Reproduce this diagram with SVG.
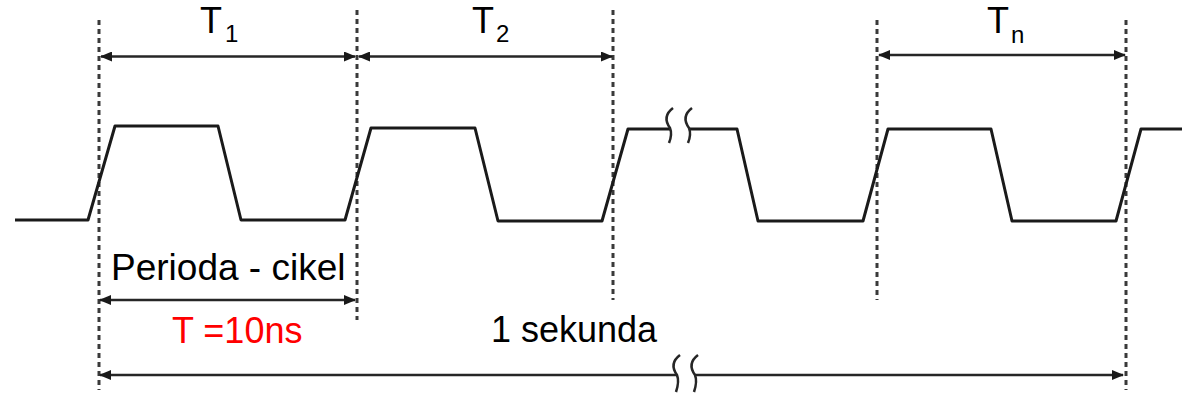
<svg xmlns="http://www.w3.org/2000/svg" width="1187" height="401" viewBox="0 0 1187 401">
<style>
.dash{stroke:#3a3a3a;stroke-width:3;stroke-dasharray:5,4;fill:none}
.wave{stroke:#1a1a1a;stroke-width:3;fill:none;stroke-linejoin:round}
.arr{stroke:#262626;stroke-width:2.5;fill:none}
.sq{stroke:#262626;stroke-width:2.5;fill:none}
.lbl{font-family:"Liberation Sans",Arial,sans-serif;fill:#000}
.big{font-size:36px}
.sub{font-size:24px}
</style>
<defs>
<marker id="ah" viewBox="0 0 12 10" refX="11" refY="5" markerWidth="12" markerHeight="10" markerUnits="userSpaceOnUse" orient="auto-start-reverse">
<path d="M0,0 L12,5 L0,10 Z" fill="#1a1a1a"/>
</marker>
</defs>
<g id="guides">
<line class="dash" x1="99" y1="20" x2="99" y2="390"/>
<line class="dash" x1="357" y1="10" x2="357" y2="320"/>
<line class="dash" x1="613" y1="10" x2="613" y2="300"/>
<line class="dash" x1="877" y1="20" x2="877" y2="300"/>
<line class="dash" x1="1126" y1="20" x2="1126" y2="390"/>
</g>
<g id="waveform">
<polyline class="wave" points="15,220 88,220 115,126 218,126 241,220 345,220 371,128 475,128 498,221 602,221 628,129 670,129"/>
<polyline class="wave" points="690,129 737,129 758,221 863,221 888,129 991,129 1012,221 1116,221 1141,129 1182,129"/>
<path class="sq" d="M673,108 C665,114 665,121 670,128 C672,133 671,138 669,143"/>
<path class="sq" d="M692,108 C684,114 684,121 689,128 C691,133 690,138 688,143"/>
</g>
<g id="connectors">
<line class="arr" x1="101" y1="56.5" x2="355" y2="56.5" marker-start="url(#ah)" marker-end="url(#ah)"/>
<line class="arr" x1="359" y1="56.5" x2="612" y2="56.5" marker-start="url(#ah)" marker-end="url(#ah)"/>
<line class="arr" x1="879" y1="55" x2="1125" y2="55" marker-start="url(#ah)" marker-end="url(#ah)"/>
<line class="arr" x1="100" y1="300" x2="355" y2="300" marker-start="url(#ah)" marker-end="url(#ah)"/>
<line class="arr" x1="100" y1="375" x2="677" y2="375" marker-start="url(#ah)"/>
<line class="arr" x1="695" y1="375" x2="1123" y2="375" marker-end="url(#ah)"/>
<path class="sq" d="M680,355 C672,361 672,368 677,375 C679,380 678,386 676,392"/>
<path class="sq" d="M698,355 C690,361 690,368 695,375 C697,380 696,386 694,392"/>
</g>
<g id="label-T1">
<text class="lbl big" x="200" y="33">T</text>
<text class="lbl sub" x="225" y="42">1</text>
</g>
<g id="label-T2">
<text class="lbl big" x="472" y="33">T</text>
<text class="lbl sub" x="496" y="42">2</text>
</g>
<g id="label-Tn">
<text class="lbl big" x="987" y="33">T</text>
<text class="lbl sub" x="1011" y="43">n</text>
</g>
<g id="label-period">
<text class="lbl" x="111" y="280" font-size="37">Perioda - cikel</text>
</g>
<g id="label-T10ns">
<text class="lbl big" x="172" y="343" style="fill:#ff0000">T =10ns</text>
</g>
<g id="label-second">
<text class="lbl big" x="491" y="342">1 sekunda</text>
</g>
</svg>
